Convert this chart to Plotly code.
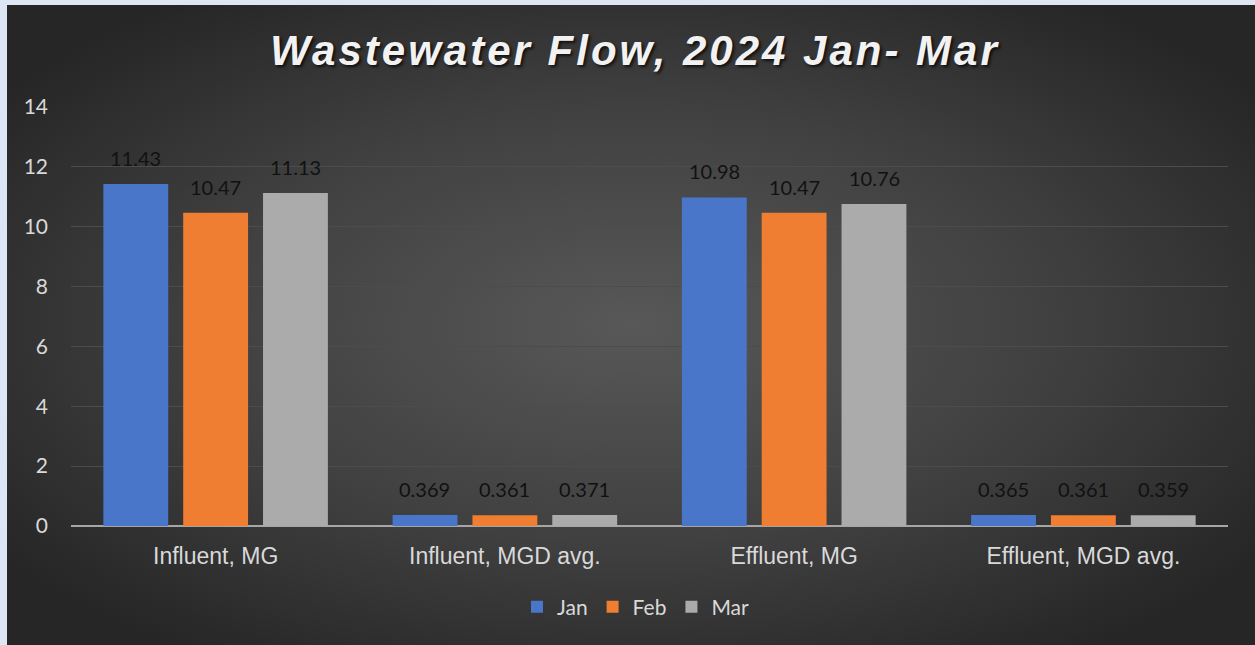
import base64
import plotly.graph_objects as go

# data
categories = ["Influent, MG", "Influent, MGD avg.", "Effluent, MG", "Effluent, MGD avg."]
months = ["Jan", "Feb", "Mar"]
jan = [11.43, 0.369, 10.98, 0.365]
feb = [10.47, 0.361, 10.47, 0.361]
mar = [11.13, 0.371, 10.76, 0.359]
labels_jan = ["11.43", "0.369", "10.98", "0.365"]
labels_feb = ["10.47", "0.361", "10.47", "0.361"]
labels_mar = ["11.13", "0.371", "10.76", "0.359"]
y_ticks = [0, 2, 4, 6, 8, 10, 12, 14]

COLORS = ["#4a76c9", "#ef7d32", "#ababab"]
LABEL_FONT = "Lato, 'Noto Sans', sans-serif"
ARIAL = "Liberation Sans, Arial, sans-serif"

W, H = 1255, 645
L, R, T, B = 71, 27, 107, 119

# radial gradient background as svg
svg = f"""<svg xmlns='http://www.w3.org/2000/svg' width='{W}' height='{H}' preserveAspectRatio='none'>
<defs><radialGradient id='g' cx='0.5' cy='0.5' r='0.62' gradientUnits='objectBoundingBox'>
<stop offset='0' stop-color='#585858'/><stop offset='0.55' stop-color='#404040'/>
<stop offset='1' stop-color='#262626'/></radialGradient></defs>
<rect width='100%' height='100%' fill='url(#g)'/></svg>"""
bg = "data:image/svg+xml;base64," + base64.b64encode(svg.encode()).decode()

pw, ph = W - L - R, H - T - B
x0 = (7 - L) / pw
x1 = (W - L) / pw
y_top = (H - B - 5) / ph
y_bot = (H - B - H) / ph

fig = go.Figure()
series = [jan, feb, mar]
texts = [labels_jan, labels_feb, labels_mar]
for i, (name, vals) in enumerate(zip(months, series)):
    fig.add_trace(go.Bar(
        name=name, x=categories, y=vals,
        marker=dict(color=COLORS[i], line=dict(width=0)),
        hoverinfo="x+y+name",
    ))
    for c, v, t in zip(categories, vals, texts[i]):
        fig.add_annotation(
            x=c, y=v, text=t, showarrow=False,
            xshift=(i - 1) * 80, yshift=12, yanchor="bottom",
            font=dict(family=LABEL_FONT, size=20, color="#111111"),
        )

fig.update_layout(
    width=W, height=H,
    margin=dict(l=L, r=R, t=T, b=B),
    paper_bgcolor="#dce6f4",
    plot_bgcolor="rgba(0,0,0,0)",
    barmode="group", bargap=0.172, bargroupgap=0.1875,
    title=dict(
        text="Wastewater Flow, 2024 Jan- Mar",
        xref="container", x=0.506, xanchor="center",
        yref="container", y=1 - 50 / H, yanchor="middle",
        font=dict(family=ARIAL, size=42,
                  color="#f2f2f2", style="italic", weight="bold",
                  shadow="2px 2px 3px rgba(0,0,0,0.7)"),
    ),
    legend=dict(
        orientation="h", x=(636 - L) / pw, xanchor="center",
        y=(H - B - 607) / ph, yanchor="middle",
        font=dict(family=LABEL_FONT, size=21, color="#d9d9d9"),
        bgcolor="rgba(0,0,0,0)", itemwidth=30,
    ),
    images=[dict(
        source=bg, xref="paper", yref="paper",
        x=x0, y=y_top, sizex=x1 - x0, sizey=y_top - y_bot,
        xanchor="left", yanchor="top", sizing="stretch", layer="below",
    )],
    showlegend=True,
)
fig.update_xaxes(
    showgrid=False, showline=False, zeroline=False, ticks="",
    ticklabelstandoff=14,
    tickfont=dict(family=ARIAL, size=23, color="#d9d9d9"),
)
fig.update_yaxes(
    range=[0, 14], tickvals=y_ticks, showgrid=True,
    gridcolor="#4c4c4c", gridwidth=1,
    zeroline=True, zerolinecolor="#a6a6a6", zerolinewidth=2,
    showline=False, ticks="", ticklabelstandoff=22,
    tickfont=dict(family=LABEL_FONT, size=21, color="#d9d9d9"),
)

# drop the page margin and space out the title letters like the original
post = (
    "document.body.style.margin='0';document.body.style.overflow='hidden';"
    "var t=document.querySelector('.gtitle');if(t){t.style.letterSpacing='3px';}"
)
fig.write_html("out.html", post_script=post, config={"displayModeBar": False})
